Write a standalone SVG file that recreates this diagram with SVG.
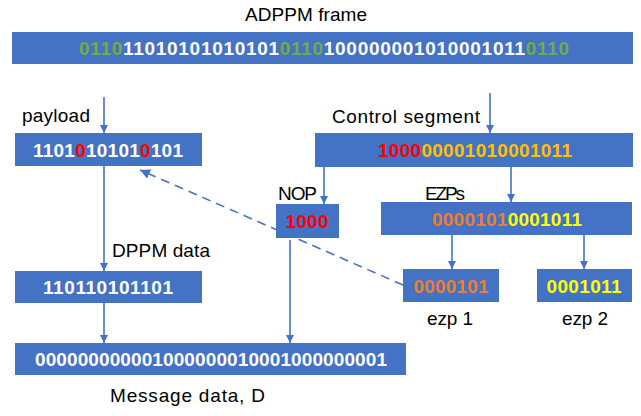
<svg xmlns="http://www.w3.org/2000/svg" width="641" height="416" viewBox="0 0 641 416">
<style>
.box{fill:#4472C4}
.bits{font-family:"Liberation Sans",Arial,sans-serif;font-weight:bold;font-size:19px;fill:#FFFFFF;text-anchor:middle}
.lbl{font-family:"Liberation Sans",Arial,sans-serif;font-size:19px;fill:#000000}
.ln{stroke:#4472C4;stroke-width:1.6;fill:none}
.g{fill:#70AD47}.r{fill:#FF0000}.o{fill:#FFC000}.or{fill:#ED7D31}.y{fill:#FFFF00}
</style>
<defs>
<marker id="ah" viewBox="0 0 10 10" refX="10" refY="5" markerWidth="8" markerHeight="8" markerUnits="userSpaceOnUse" orient="auto">
<path d="M0,0 L10,5 L0,10 z" fill="#4472C4"/>
</marker>
<marker id="ahd" viewBox="0 0 10 10" refX="10" refY="5" markerWidth="10" markerHeight="10" markerUnits="userSpaceOnUse" orient="auto">
<path d="M0,0 L10,5 L0,10 z" fill="#4472C4"/>
</marker>
</defs>
<g id="connectors">
<line class="ln" x1="104" y1="97" x2="104" y2="133" marker-end="url(#ah)"/>
<line class="ln" x1="490" y1="93" x2="490" y2="133" marker-end="url(#ah)"/>
<line class="ln" x1="104" y1="166" x2="104" y2="271" marker-end="url(#ah)"/>
<line class="ln" x1="324" y1="167" x2="324" y2="204" marker-end="url(#ah)"/>
<line class="ln" x1="511" y1="167" x2="511" y2="202" marker-end="url(#ah)"/>
<line class="ln" x1="452" y1="235" x2="452" y2="269" marker-end="url(#ah)"/>
<line class="ln" x1="584" y1="235" x2="584" y2="269" marker-end="url(#ah)"/>
<line class="ln" x1="104" y1="303" x2="104" y2="343" marker-end="url(#ah)"/>
<line class="ln" x1="290" y1="240" x2="290" y2="343" marker-end="url(#ah)"/>
<line class="ln" x1="403" y1="285" x2="140" y2="170" stroke-width="2" stroke-dasharray="9,6" marker-end="url(#ahd)"/>
</g>
<g id="frame">
<text class="lbl" x="245" y="21" textLength="122">ADPPM frame</text>
<rect class="box" x="12" y="32" width="621" height="32"/>
<text class="bits" x="324" y="55" textLength="490"><tspan class="g">0110</tspan>11010101010101<tspan class="g">0110</tspan>100000001010001011<tspan class="g">0110</tspan></text>
</g>
<g id="payload">
<text class="lbl" x="22" y="122" textLength="68">payload</text>
<rect class="box" x="15" y="133" width="187" height="33"/>
<text class="bits" x="108" y="157" textLength="150">1101<tspan class="r">0</tspan>10101<tspan class="r">0</tspan>101</text>
</g>
<g id="control">
<text class="lbl" x="332" y="123" textLength="148">Control segment</text>
<rect class="box" x="315" y="133" width="318" height="34"/>
<text class="bits" x="475" y="157" textLength="194"><tspan class="r">1000</tspan><tspan class="o">00001010001011</tspan></text>
</g>
<g id="nop">
<text class="lbl" x="278" y="200" textLength="39">NOP</text>
<rect class="box" x="276" y="204" width="63" height="34"/>
<text class="bits" x="307" y="228" textLength="43"><tspan class="r">1000</tspan></text>
</g>
<g id="ezps">
<text class="lbl" x="425" y="200" textLength="40">EZPs</text>
<rect class="box" x="381" y="202" width="251" height="33"/>
<text class="bits" x="507" y="226" textLength="150"><tspan class="or">0000101</tspan><tspan class="y">0001011</tspan></text>
</g>
<g id="dppm">
<text class="lbl" x="112" y="257" textLength="98">DPPM data</text>
<rect class="box" x="15" y="271" width="187" height="32"/>
<text class="bits" x="108" y="294" textLength="130">110110101101</text>
</g>
<g id="ezp1">
<rect class="box" x="403" y="269" width="96" height="33"/>
<text class="bits" x="451" y="293" textLength="75"><tspan class="or">0000101</tspan></text>
<text class="lbl" x="427" y="325" textLength="46">ezp 1</text>
</g>
<g id="ezp2">
<rect class="box" x="537" y="269" width="95" height="33"/>
<text class="bits" x="584" y="293" textLength="75"><tspan class="y">0001011</tspan></text>
<text class="lbl" x="562" y="325" textLength="46">ezp 2</text>
</g>
<g id="message">
<rect class="box" x="15" y="343" width="391" height="32"/>
<text class="bits" x="211" y="366" textLength="352">000000000001000000010001000000001</text>
<text class="lbl" x="110" y="402" textLength="155">Message data, D</text>
</g>
</svg>
